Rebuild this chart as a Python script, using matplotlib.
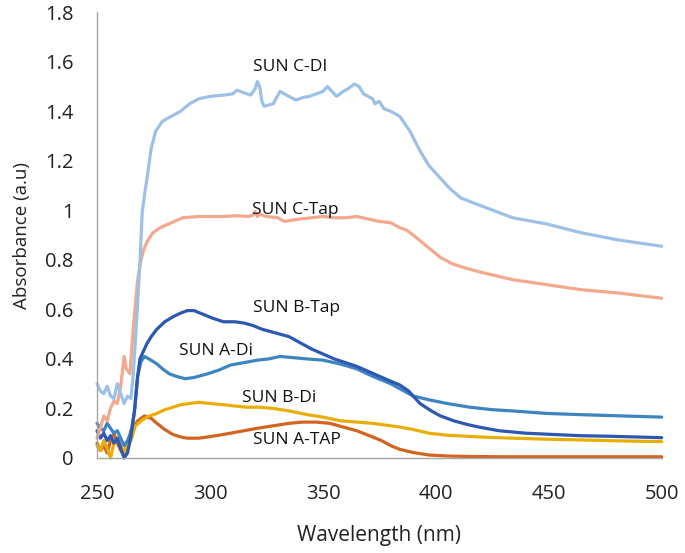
import matplotlib
matplotlib.use("Agg")
import matplotlib.pyplot as plt

plt.rcParams['font.family'] = ['Open Sans', 'DejaVu Sans']

# ---- data ----
cdi_wl = [250, 251.5, 253, 254.5, 256, 257.5, 259, 260.5, 262, 263.5, 265, 266, 267.7, 269, 270, 271, 272, 274,
          276, 279, 283, 287, 291, 295, 300, 306, 310, 312, 315, 318, 320, 321, 322, 323, 324, 326, 328, 331,
          333, 335, 338, 341, 344, 347, 350, 352, 354, 356, 359, 361, 364, 366, 368, 370, 372, 373, 375, 377,
          380, 384, 388.5, 393, 397, 402, 406, 411, 419.5, 434, 449, 464, 481, 500]
cdi_ab = [0.30, 0.27, 0.26, 0.29, 0.25, 0.24, 0.30, 0.26, 0.22, 0.25, 0.24, 0.33, 0.58, 0.79, 0.99, 1.06, 1.12, 1.25,
          1.32, 1.36, 1.38, 1.40, 1.43, 1.45, 1.46, 1.465, 1.47, 1.485, 1.475, 1.465, 1.49, 1.52, 1.50, 1.44, 1.42,
          1.425, 1.43, 1.48, 1.47, 1.46, 1.445, 1.455, 1.46, 1.47, 1.48, 1.50, 1.48, 1.46, 1.48, 1.49, 1.51, 1.50,
          1.47, 1.46, 1.45, 1.43, 1.44, 1.41, 1.40, 1.38, 1.32, 1.24, 1.18, 1.13, 1.09, 1.05, 1.02, 0.97, 0.945,
          0.91, 0.88, 0.855]

ctap_wl = [250, 251.5, 253, 254.5, 256, 257.5, 259, 260.5, 262, 263, 264.6, 266, 268, 269.5, 271, 272.6, 274.8,
           278, 283, 288, 295, 300, 306, 312, 317, 319, 320, 321, 322, 325, 330, 333, 336, 340, 345, 350, 355,
           360, 365, 370, 375, 380, 384, 387, 390, 394, 398, 402, 407, 412, 420, 434, 449, 464, 482, 500]
ctap_ab = [0.08, 0.12, 0.17, 0.15, 0.20, 0.23, 0.22, 0.29, 0.41, 0.36, 0.34, 0.52, 0.72, 0.80, 0.85, 0.88, 0.91,
           0.93, 0.95, 0.97, 0.975, 0.975, 0.975, 0.978, 0.975, 0.98, 0.995, 0.975, 0.985, 0.975, 0.97, 0.955,
           0.96, 0.965, 0.97, 0.975, 0.97, 0.97, 0.975, 0.965, 0.955, 0.95, 0.93, 0.92, 0.90, 0.87, 0.84, 0.81,
           0.785, 0.77, 0.75, 0.72, 0.70, 0.68, 0.665, 0.645]

btap_wl = [250, 251.5, 253, 254.5, 256, 257.5, 259, 260.5, 262, 263.5, 265, 266.6, 268, 269, 270.5, 272, 274,
           276.5, 280, 283.6, 287, 290, 293, 297, 301, 306, 311, 315, 319, 323, 327, 331, 335, 340, 345, 350,
           355, 360, 365, 370, 375, 380, 384, 388, 393, 398, 402, 408, 414, 419, 428, 440, 452, 464, 476, 488, 500]
btap_ab = [0.11, 0.08, 0.10, 0.07, 0.09, 0.06, 0.08, 0.04, 0.00, 0.02, 0.085, 0.19, 0.33, 0.40, 0.43, 0.46, 0.49,
           0.52, 0.55, 0.57, 0.585, 0.595, 0.595, 0.58, 0.565, 0.55, 0.55, 0.545, 0.535, 0.52, 0.51, 0.50, 0.49,
           0.465, 0.44, 0.42, 0.40, 0.385, 0.37, 0.35, 0.33, 0.31, 0.295, 0.27, 0.22, 0.19, 0.17, 0.15, 0.135,
           0.125, 0.11, 0.10, 0.095, 0.09, 0.088, 0.085, 0.082]

adi_wl = [250, 251.5, 253, 254.5, 256, 257.5, 259, 260.5, 262, 263.5, 265, 266.6, 268, 269.5, 271, 273, 276.5,
          279, 282, 285, 289, 293, 299, 304, 309, 315, 321, 326, 331, 337, 343, 350, 357.5, 365, 372, 376, 380,
          385, 390, 397, 405, 415, 425, 434, 449, 464, 482, 500]
adi_ab = [0.14, 0.12, 0.11, 0.14, 0.12, 0.10, 0.11, 0.08, 0.05, 0.07, 0.10, 0.19, 0.33, 0.39, 0.41, 0.40, 0.38,
          0.36, 0.34, 0.33, 0.32, 0.325, 0.34, 0.355, 0.375, 0.385, 0.395, 0.40, 0.41, 0.405, 0.40, 0.395, 0.38,
          0.36, 0.33, 0.315, 0.30, 0.275, 0.25, 0.235, 0.22, 0.205, 0.195, 0.19, 0.18, 0.175, 0.17, 0.165]

bdi_wl = [250, 251.5, 253, 254.5, 256, 257.5, 259, 260.5, 262, 263.5, 265, 267, 269.5, 272, 276.5, 280, 283.6,
          287, 291, 295, 300, 306, 311, 316, 322, 328, 335, 343, 350, 358, 365, 372, 380, 384, 390, 397, 405,
          419, 434, 449, 464, 482, 500]
bdi_ab = [0.05, 0.03, 0.07, 0.04, 0.00, 0.06, 0.08, 0.05, 0.02, 0.06, 0.07, 0.13, 0.15, 0.165, 0.18, 0.195,
          0.205, 0.215, 0.22, 0.225, 0.22, 0.215, 0.21, 0.205, 0.205, 0.20, 0.19, 0.175, 0.165, 0.15, 0.145, 0.14,
          0.13, 0.125, 0.115, 0.10, 0.092, 0.085, 0.08, 0.076, 0.073, 0.069, 0.066]

atap_wl = [250, 251.5, 253, 254.5, 256, 257.5, 259, 260.5, 262, 263.5, 265, 268, 271, 274, 276.5, 280, 283.6,
           287, 290, 295, 299, 304, 309, 315, 321, 328, 335, 341, 347, 353, 359, 365, 372, 376, 380, 384, 390,
           397, 405, 415, 430, 450, 475, 500]
atap_ab = [0.06, 0.03, 0.05, 0.02, 0.07, 0.10, 0.06, 0.03, 0.01, 0.06, 0.11, 0.15, 0.17, 0.16, 0.14, 0.115,
           0.095, 0.085, 0.08, 0.08, 0.085, 0.092, 0.10, 0.11, 0.12, 0.13, 0.14, 0.145, 0.145, 0.14, 0.125, 0.11,
           0.085, 0.07, 0.05, 0.035, 0.022, 0.012, 0.008, 0.006, 0.005, 0.005, 0.005, 0.005]

series_names = ["SUN C-DI", "SUN C-Tap", "SUN B-Tap", "SUN A-Di", "SUN B-Di", "SUN A-TAP"]
x_ticks = [250, 300, 350, 400, 450, 500]
y_ticks = [0, 0.2, 0.4, 0.6, 0.8, 1.0, 1.2, 1.4, 1.6, 1.8]
y_tick_labels = ["0", "0.2", "0.4", "0.6", "0.8", "1", "1.2", "1.4", "1.6", "1.8"]

# ---- plot ----
fig = plt.figure(figsize=(6.85, 5.53), dpi=100)
ax = fig.add_axes([0.1416, 0.1718, 0.8244, 0.8062])

series = [
    (atap_wl, atap_ab, "#D2641F"),
    (bdi_wl, bdi_ab, "#E9AE05"),
    (adi_wl, adi_ab, "#3E84C0"),
    (btap_wl, btap_ab, "#2D58B2"),
    (ctap_wl, ctap_ab, "#F2A98D"),
    (cdi_wl, cdi_ab, "#9DC1E6"),
]
for wl, ab, col in series:
    ax.plot(wl, ab, color=col, lw=2.3, solid_joinstyle='round', solid_capstyle='round', clip_on=False)

ax.set_xlim(250, 500)
ax.set_ylim(0, 1.8)
ax.set_xticks(x_ticks)
ax.set_xticklabels([str(t) for t in x_ticks])
ax.set_yticks(y_ticks)
ax.set_yticklabels(y_tick_labels)
ax.tick_params(axis='both', length=0, labelsize=14.5, colors='#222222')
ax.tick_params(axis='y', pad=17)
ax.tick_params(axis='x', pad=19)
for s in ['top', 'right']:
    ax.spines[s].set_visible(False)
for s in ['left', 'bottom']:
    ax.spines[s].set_color('#A6A6A6')
    ax.spines[s].set_linewidth(1.0)

ax.set_xlabel("Wavelength (nm)", fontsize=15, color='#222222', labelpad=15)
ax.set_ylabel("Absorbance (a.u)", fontsize=13.5, color='#222222', labelpad=10)

label_pos = [(335.4, 1.58), (337.6, 1.0), (338.5, 0.605), (302.7, 0.432), (330.5, 0.242), (338.5, 0.073)]
for name, (lx, ly) in zip(series_names, label_pos):
    ax.text(lx, ly, name, fontsize=12.5, ha='center', va='center', color='#111111')

fig.savefig("out.png", dpi=100)
